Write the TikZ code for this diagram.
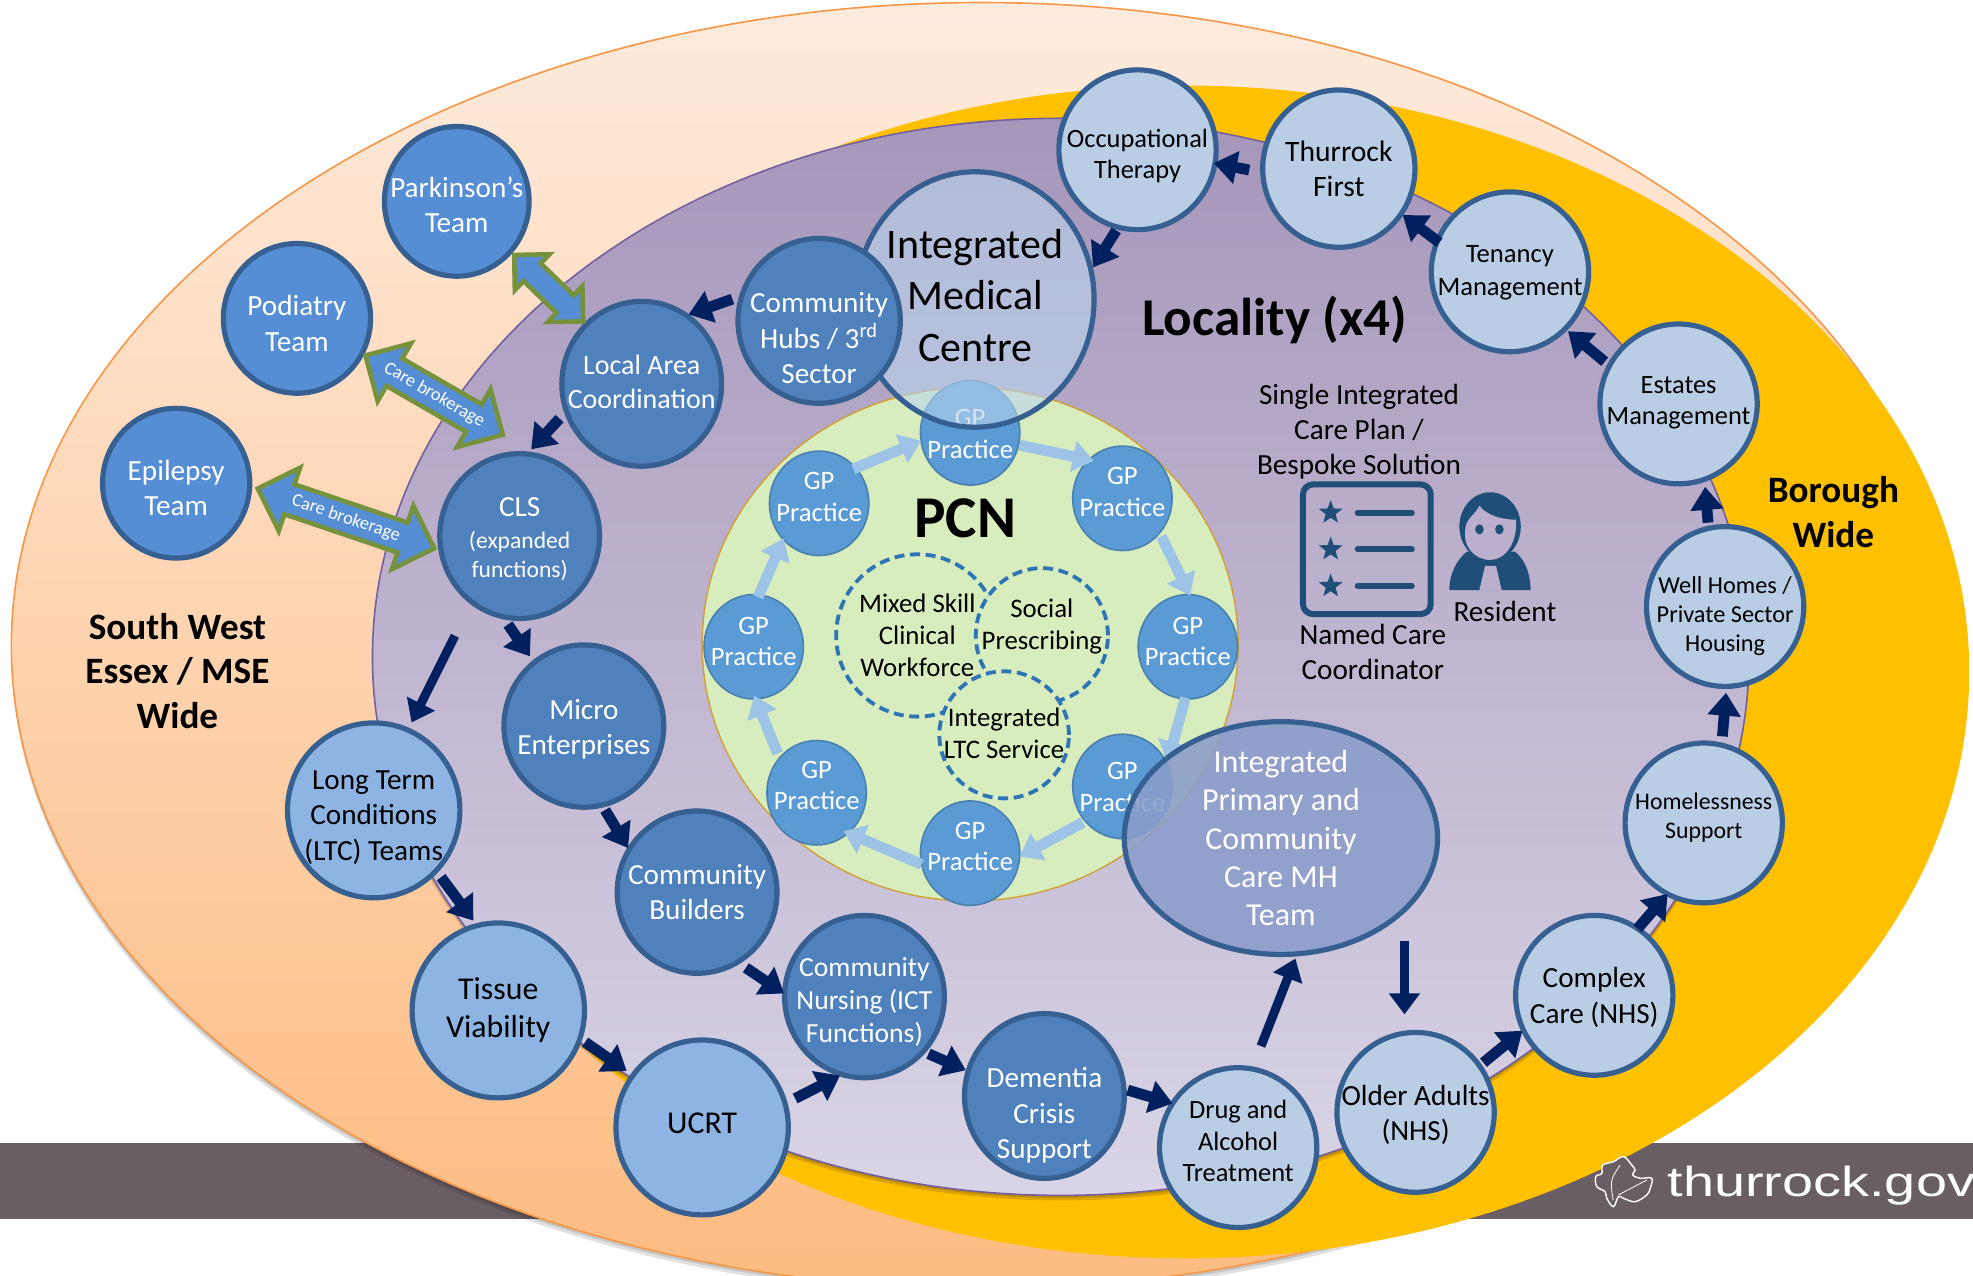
\documentclass[tikz,border=0pt]{standalone}
\usepackage{fontspec}
\usepackage{graphicx}
\setmainfont{Carlito}
\newfontfamily\govfont{Liberation Sans}
\usetikzlibrary{arrows.meta,shapes.geometric,shapes.arrows,calc}
\definecolor{band}{HTML}{6A5E65}
\definecolor{orangetop}{HTML}{FEEBDD}
\definecolor{orangebot}{HTML}{FDBB80}
\definecolor{orangeline}{HTML}{F79646}
\definecolor{yellowfill}{HTML}{FFC000}
\definecolor{purpletop}{HTML}{A696BA}
\definecolor{purplebot}{HTML}{DAD5E6}
\definecolor{purpleline}{HTML}{7460A0}
\definecolor{pcnfill}{HTML}{D8EDBE}
\definecolor{pcnline}{HTML}{CFA033}
\definecolor{teamfill}{HTML}{558ED5}
\definecolor{darkfill}{HTML}{4F81BD}
\definecolor{midfill}{HTML}{8EB4E3}
\definecolor{lightfill}{HTML}{B9CDE5}
\definecolor{bd}{HTML}{376092}
\definecolor{gpfill}{HTML}{5B9BD5}
\definecolor{gpline}{HTML}{4A80AE}
\definecolor{lightarrow}{HTML}{9DC3E6}
\definecolor{dashblue}{HTML}{2E75B6}
\definecolor{navyblue}{HTML}{002060}
\definecolor{brokergreen}{HTML}{76923C}
\definecolor{iconblue}{HTML}{1F4E79}
\definecolor{iconbg}{HTML}{BBAFCD}
\definecolor{ipccfill}{HTML}{8A9DCA}
\definecolor{imcfill}{HTML}{B9D4ED}
\newlength\tshiftlen
\newcommand\T[2]{\tshiftlen=0.62915pt \tshiftlen=#1\tshiftlen
  \raisebox{-\tshiftlen}[\height][\depth]{\begin{tabular}{@{}c@{}}#2\end{tabular}}}
\newcommand\smallline{\fontsize{11.8}{14.5}\selectfont}
\tikzset{
  sz/.style 2 args={minimum width={(2*#1-3)*0.62915pt},minimum height={(2*#2-3)*0.62915pt}},
  gap/.style 2 args={shorten <={(#1)*0.62915pt},shorten >={(#2)*0.62915pt}},
  disc/.style={ellipse,inner sep=-80pt,outer sep=0pt,draw=bd,line width=2.6pt,align=center},
  f14/.style={font=\fontsize{14.6}{17.6}\selectfont},
  f13/.style={font=\fontsize{13.2}{15.9}\selectfont},
  team/.style={disc,fill=teamfill,text=white,f14},
  darkd/.style={disc,fill=darkfill,text=white,f14},
  midd/.style={disc,fill=midfill,text=black,f14,sz={70}{71}},
  light/.style={disc,fill=lightfill,text=black,f13,sz={64}{65}},
  gp/.style={disc,draw=gpline,line width=0.8pt,fill=gpfill,text=white,
    font=\fontsize{13.3}{15.9}\selectfont,sz={41}{43}},
  dashc/.style={disc,draw=dashblue,fill=pcnfill,line width=1.9pt,dash pattern=on 5pt off 2.8pt,text=black,
    font=\fontsize{13.4}{16}\selectfont},
  navyarrow/.style={draw=navyblue,line width=5.4pt,-{Triangle[length=11.5pt,width=16pt]}},
  thinnavy/.style={draw=navyblue,line width=4.5pt,-{Triangle[length=10.5pt,width=15pt]}},
  gparrow/.style={draw=lightarrow,line width=5.4pt,-{Triangle[length=10.5pt,width=15pt]}},
  broker/.style={double arrow,draw=brokergreen,line width=2.3pt,fill=teamfill,text=white,
    inner sep=0pt,outer sep=0pt,double arrow head indent=0pt,font=\fontsize{9.2}{10}\selectfont},
  plain/.style={align=center,inner sep=0pt,text=black},
  big/.style={plain,font=\bfseries\fontsize{18.6}{22.3}\selectfont},
  body14/.style={plain,font=\fontsize{14.6}{17.4}\selectfont},
  icon/.style={fill=iconblue,draw=none},
}
\begin{document}
\begin{tikzpicture}[x=0.62915pt,y=-0.62915pt]
\useasboundingbox (0,0) rectangle (1568,1013.3);
% background band
\fill[band] (0,908) rectangle (1568,969);
% nested regions
\fill[black,opacity=0.12] (780,518) ellipse (771 and 511);
\fill[black,opacity=0.12] (780,515.5) ellipse (771 and 511);
\node[ellipse,inner sep=0pt,outer sep=0pt,minimum width={1542*0.62915pt},minimum height={1022*0.62915pt},
  draw=orangeline,line width=0.8pt,top color=orangetop,bottom color=orangebot] (swe) at (780,513) {};
\node[ellipse,inner sep=0pt,outer sep=0pt,minimum width={1246*0.62915pt},minimum height={932*0.62915pt},
  fill=yellowfill] (boro) at (942,534) {};
\fill[black,opacity=0.14] (843,526) ellipse (547 and 428);
\fill[black,opacity=0.14] (843,524) ellipse (547 and 428);
\node[ellipse,inner sep=0pt,outer sep=0pt,minimum width={1094*0.62915pt},minimum height={856*0.62915pt},
  draw=purpleline,line width=0.8pt,top color=purpletop,bottom color=purplebot] (loc) at (843,522) {};
% band logo and text
\node[anchor=base west,inner sep=0pt,text=white,font=\govfont\fontsize{21}{24}\selectfont] (gov) at (1325,951)
  {\scalebox{1.33}[1]{thurrock.gov}};
\draw[white,line width=0.7pt,fill=band] plot[smooth cycle,tension=0.6] coordinates {
 (1282.2,959) (1276.9,952.3) (1275.6,947) (1269,943) (1268.2,935.1) (1273,932.5) (1273.7,925.9)
 (1282.2,923.2) (1290.2,919.2) (1296.8,925.9) (1299.4,929.8) (1297.6,933.8) (1303.4,936.4)
 (1312.7,936.4) (1311.4,944.4) (1308.7,949.7) (1299.4,955) (1290.2,952.3) (1286.2,951)};
\draw[white,line width=0.4pt] (1282,953.7) .. controls (1279.6,937.8) .. (1287.5,925.9);
\draw[white,line width=0.4pt] (1286,949.7) -- (1308.7,937.8);
% PCN
\node[ellipse,inner sep=0pt,outer sep=0pt,minimum width={426*0.62915pt},minimum height={408*0.62915pt},
  draw=pcnline,line width=0.7pt,fill=pcnfill] (pcn) at (771,512) {};
\node[gp] (gt) at (771,344) {\T{2.5}{GP\\Practice}};
\node[gp] (gr1) at (892,396) {\T{-3}{GP\\Practice}};
\node[gp] (gr2) at (944,514) {\T{-2.5}{GP\\Practice}};
\node[gp] (gr3) at (892,625) {\T{2}{GP\\Practice}};
\node[gp] (gb) at (771,678) {\T{-3.5}{GP\\Practice}};
\node[gp] (gl3) at (649,630) {\T{-4}{GP\\Practice}};
\node[gp] (gl2) at (599,514) {\T{-2.5}{GP\\Practice}};
\node[gp] (gl1) at (651,400) {\T{-3.5}{GP\\Practice}};
\draw[gparrow,gap={-2}{0}] (gl1.44) -- (gt.189.5);
\draw[gparrow,gap={1}{-4}] (gt.-14.7) -- (gr1.131);
\draw[gparrow,gap={3}{-1}] (gr1.-43) -- (gr2.88.6);
\draw[gparrow,gap={-1}{1}] (gr2.-93) -- (gr3.27.8);
\draw[gparrow,gap={2}{0}] (gr3.223) -- (gb.-4);
\draw[gparrow,gap={0}{-4}] (gb.193.7) -- (gl3.-52.5);
\draw[gparrow,gap={4}{-3}] (gl3.137) -- (gl2.-88.5);
\draw[gparrow,gap={-2}{-1}] (gl2.84) -- (gl1.225);
\node[plain,font=\bfseries\fontsize{29.6}{32}\selectfont] (pcnlabel) at (767,412) {PCN};
\node[dashc,sz={66}{66}] (mixed) at (729,505) {Mixed Skill\\Clinical\\Workforce};
\node[dashc,sz={54}{55}] (social) at (828,505) {\T{-6.5}{Social\\Prescribing}};
\node[dashc,sz={53}{52}] (ltcs) at (798,584) {\T{1}{Integrated\\LTC Service}};
% overlay ellipses
\node[disc,sz={96}{103},fill=imcfill,fill opacity=0.6,text opacity=1,text=black,
  font=\fontsize{21}{25.8}\selectfont] (imc) at (775,238) {\T{0}{Integrated\\Medical\\Centre}};
\node[disc,sz={126}{94},fill=ipccfill,fill opacity=0.88,text opacity=1,text=white,
  font=\fontsize{16}{19.2}\selectfont] (ipcc) at (1018,666) {Integrated\\Primary and\\Community\\Care MH\\Team};
% teams
\node[team,sz={59}{61}] (park) at (363,160) {\T{5.5}{Parkinson’s\\Team}};
\node[team,sz={60}{61}] (podi) at (236,253) {\T{6.5}{Podiatry\\Team}};
\node[team,sz={60}{61}] (epil) at (140,384) {\T{6}{Epilepsy\\Team}};
\node[darkd,sz={66}{67}] (hubs) at (651,255) {\T{16}{Community\\Hubs / 3\textsuperscript{rd}\\Sector}};
\node[darkd,sz={65}{67},font=\fontsize{14}{17.2}\selectfont] (local) at (510,305) {\T{0.5}{Local Area\\Coordination}};
\node[darkd,sz={65}{67},font=\fontsize{14.6}{14.5}\selectfont] (cls) at (413,426) {\T{4}{CLS\\[1.2pt]\smallline (expanded\\\smallline functions)}};
\node[darkd,sz={65}{66}] (micro) at (464,577) {\T{3}{Micro\\Enterprises}};
\node[darkd,sz={65}{66}] (cbuild) at (554,709) {\T{2.5}{Community\\Builders}};
\node[darkd,font=\fontsize{13.8}{16.4}\selectfont,sz={65}{66}] (cnurse) at (687,792) {\T{5}{Community\\Nursing (ICT\\Functions)}};
\node[darkd,sz={65}{67}] (demen) at (830,871) {\T{16}{Dementia\\Crisis\\Support}};
\node[midd] (ltc) at (297,644) {\T{6}{Long Term\\Conditions\\(LTC) Teams}};
\node[midd,font=\fontsize{15.9}{18.9}\selectfont] (tissue) at (396,803) {\T{0.5}{Tissue\\Viability}};
\node[midd,font=\fontsize{15.9}{18.9}\selectfont] (ucrt) at (558,896) {\T{-1}{UCRT}};
\node[light] (occ) at (904,119) {\T{5.5}{Occupational\\Therapy}};
\node[light,font=\fontsize{14.8}{17.6}\selectfont,sz={62}{64}] (thur) at (1064,134) {Thurrock\\First};
\node[light,font=\fontsize{13.3}{16.3}\selectfont] (ten) at (1200,216) {\T{0.5}{Tenancy\\Management}};
\node[light] (est) at (1334,321) {\T{-1}{Estates\\Management}};
\node[light,font=\fontsize{12.15}{14.5}\selectfont] (well) at (1371,482) {\T{8}{Well Homes /\\Private Sector\\Housing}};
\node[light,font=\fontsize{11.9}{14.5}\selectfont] (home) at (1354,654) {\T{-4}{Homelessness\\Support}};
\node[light,f14] (complex) at (1267,791) {\T{2.5}{Complex\\Care (NHS)}};
\node[light,f14] (older) at (1125,884) {\T{3}{Older Adults\\(NHS)}};
\node[light] (drug) at (984,912) {\T{-3}{Drug and\\Alcohol\\Treatment}};
% navy arrows
\draw[navyarrow,gap={11}{-1}] (thur.183) -- (occ.-10);
\draw[navyarrow,gap={-2}{1.6}] (ten.157.5) -- (thur.-36.7);
\draw[navyarrow,gap={5}{3}] (est.151) -- (ten.-46.8);
\draw[navyarrow,gap={4.6}{6}] (well.102.4) -- (est.-71);
\draw[navyarrow,gap={7}{5}] (home.77) -- (well.-89);
\draw[navyarrow,gap={0}{0}] (complex.57) -- (home.243.4);
\draw[navyarrow,gap={4}{1}] (older.36.7) -- (complex.206);
\draw[thinnavy,gap={22}{15}] (older.98 |- ipcc.-32) -- (older.98);
\draw[thinnavy,gap={19.5}{4}] (drug.80) -- (ipcc.-82);
\draw[navyarrow,gap={3}{0}] (demen.5) -- (drug.146);
\draw[navyarrow,gap={4.5}{2}] (cnurse.-43.8) -- (demen.162.6);
\draw[navyarrow,gap={9}{1.8}] (ucrt.16.8) -- (cnurse.-106.5);
\draw[navyarrow,gap={5}{6}] (tissue.-19.4) -- (ucrt.143);
\draw[navyarrow,gap={6.5}{5}] (ltc.-44.5) -- (tissue.104.6);
\draw[thinnavy,gap={30}{6.7}] (cls.-126) -- (ltc.67);
\draw[navyarrow,gap={7.6}{5.9}] (cls.-102) -- (micro.128.7);
\draw[navyarrow,gap={4.6}{1.5}] (micro.-77.6) -- (cbuild.148);
\draw[navyarrow,gap={8}{0.5}] (cbuild.-60) -- (cnurse.178);
\draw[navyarrow,gap={8}{5}] (local.200) -- (cls.85);
\draw[navyarrow,gap={8}{2}] (hubs.162) -- (local.57.7);
\draw[navyarrow,gap={3}{3}] (occ.-104) -- (imc.14);
% double arrows
\node[broker,rotate=-44,inner ysep=5pt,minimum height={76*0.62915pt},minimum width={39*0.62915pt},double arrow head extend=6.3pt] (brk0) at (436,229) {};
\node[broker,rotate=-30,inner ysep=2.5pt,minimum height={126*0.62915pt},minimum width={53*0.62915pt},double arrow head extend=8.5pt] (brk1) at (345,314) {Care brokerage};
\node[broker,rotate=-18.7,inner ysep=2.5pt,minimum height={148*0.62915pt},minimum width={53*0.62915pt},double arrow head extend=8.5pt] (brk2) at (275,412) {Care brokerage};
% text labels
\node[plain,font=\bfseries\fontsize{26.6}{30}\selectfont] (localitylabel) at (1013,254) {Locality (x4)};
\node[big] (swlabel) at (141,533) {South West\\Essex / MSE\\Wide};
\node[big] (borolabel) at (1457,407) {Borough\\Wide};
\node[body14] (siplabel) at (1080,343) {Single Integrated\\Care Plan /\\Bespoke Solution};
\node[body14] (coordlabel) at (1091,518) {Named Care\\Coordinator};
\node[body14] (reslabel) at (1196,486) {Resident};
% care plan icon
\draw[iconblue,line width=3pt,rounded corners=5pt] (1035.5,385) rectangle (1137,488);
\foreach \yy/\nm in {407.4/s1,436.5/s2,465.7/s3}{
  \node[star,star points=5,star point ratio=2.4,fill=iconblue,inner sep=0pt,minimum size=12.5pt] (\nm) at (1057.5,\yy) {};
  \draw[iconblue,line width=3pt,line cap=round] (1079,\yy) -- (1122,\yy);
}
% person icon
\fill[icon] (1151.8,468.9) .. controls (1152,455) and (1158,445) .. (1165.6,438.4) -- (1204,438.4)
  .. controls (1212,445) and (1216,455) .. (1216.5,468.9) -- cycle;
\fill[icon] (1184.2,418.5) ellipse (24.4 and 27.3);
\fill[iconbg] (1164.3,423) .. controls (1164,412) and (1172,410) .. (1175.7,401.9)
  .. controls (1182,410) and (1194,413) .. (1204.8,413)
  .. controls (1206,432) and (1196,445) .. (1184.2,445)
  .. controls (1172,445) and (1163,434) .. cycle;
\fill[icon] (1175.7,420.7) ellipse (3.4 and 4);
\fill[icon] (1191.6,420.7) ellipse (3.4 and 4);
\fill[iconbg] (1180.2,449.8) -- (1188.9,449.8) -- (1193.4,468.9) -- (1175.7,468.9) -- cycle;
\end{tikzpicture}
\end{document}
